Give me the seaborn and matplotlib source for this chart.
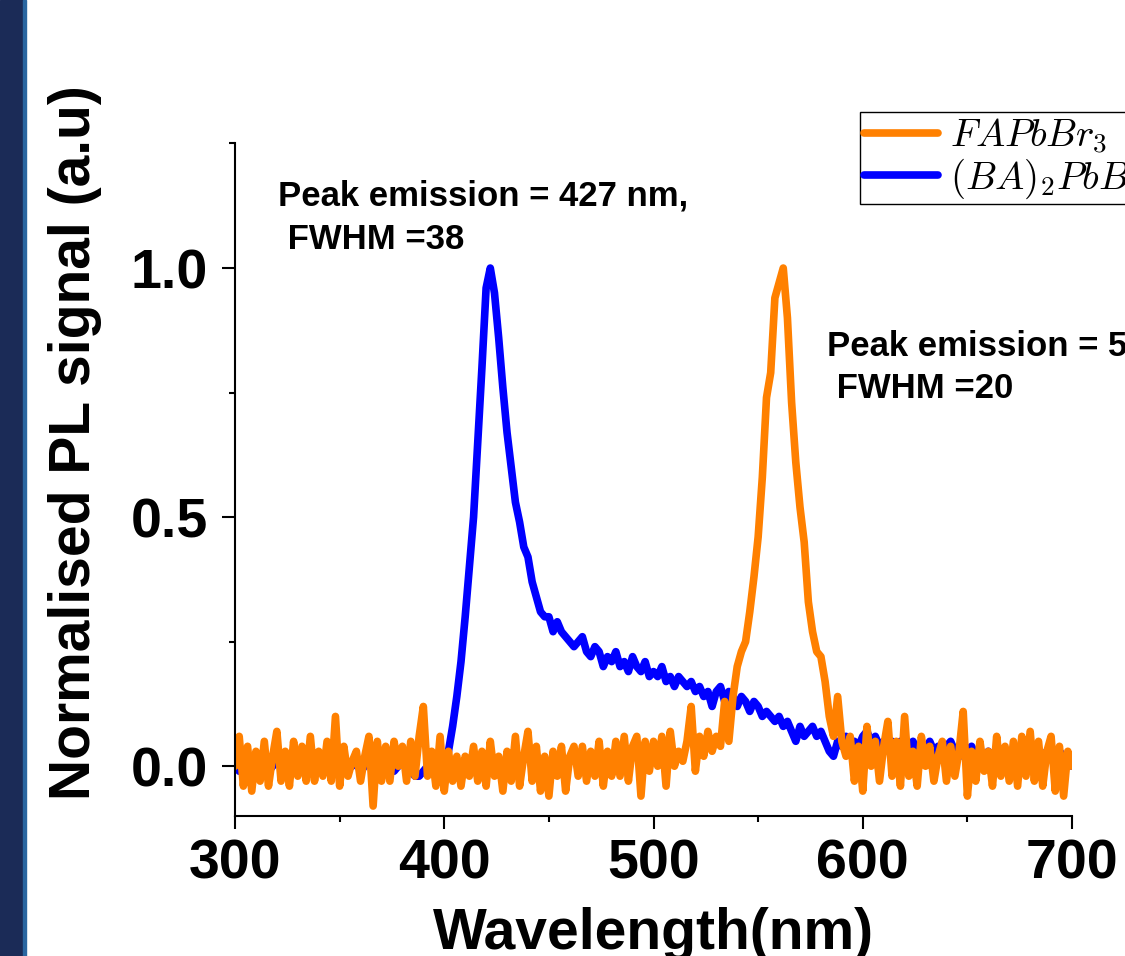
'''PL spectra of FAPbBr3 and (BA)2PbBr4'''
import numpy as np
import pandas as pd
import matplotlib
matplotlib.use('Agg')
import matplotlib.pyplot as plt
from matplotlib.patches import Rectangle
from matplotlib.ticker import MultipleLocator
import seaborn as sns

# wavelength grid (nm), 2 nm step
wavelength = np.arange(300, 702, 2)

# (BA)2PbBr4, values
ba_pbbr4 = [
    0.0, -0.01, 0.01, 0.0, -0.01, 0.01, 0.0, 0.01, -0.01, 0.0,
    0.01, 0.0, -0.01, 0.01, 0.0, 0.0, 0.01, -0.01, 0.0, 0.01,
    0.0, -0.01, 0.0, 0.01, 0.0, 0.01, -0.01, 0.0, 0.0, 0.01,
    -0.01, 0.0, 0.01, 0.0, -0.01, 0.0, 0.01, 0.0, -0.01, 0.0,
    0.01, 0.0, -0.01, -0.02, -0.02, -0.01, 0.0, 0.01, 0.0, 0.0,
    0.01, 0.03, 0.08, 0.14, 0.21, 0.30, 0.40, 0.50, 0.65, 0.80,
    0.96, 1.0, 0.95, 0.86, 0.76, 0.67, 0.60, 0.53, 0.49, 0.44,
    0.42, 0.37, 0.34, 0.31, 0.30, 0.30, 0.27, 0.29, 0.27, 0.26,
    0.25, 0.24, 0.25, 0.26, 0.23, 0.22, 0.24, 0.23, 0.20, 0.22,
    0.21, 0.23, 0.20, 0.21, 0.19, 0.22, 0.20, 0.19, 0.21, 0.18,
    0.19, 0.18, 0.20, 0.17, 0.18, 0.16, 0.18, 0.17, 0.16, 0.17,
    0.15, 0.16, 0.14, 0.15, 0.12, 0.15, 0.16, 0.13, 0.15, 0.14,
    0.12, 0.14, 0.13, 0.11, 0.13, 0.12, 0.10, 0.11, 0.10, 0.09,
    0.10, 0.08, 0.09, 0.07, 0.05, 0.08, 0.06, 0.07, 0.08, 0.06,
    0.07, 0.05, 0.03, 0.02, 0.05, 0.04, 0.06, 0.04, 0.05, 0.04,
    0.06, 0.07, 0.05, 0.06, 0.04, 0.05, 0.04, 0.05, 0.03, 0.05,
    0.04, 0.03, 0.05, 0.03, 0.04, 0.03, 0.05, 0.03, 0.04, 0.02,
    0.04, 0.05, 0.03, 0.04, 0.02, 0.03, 0.04, 0.02, 0.03, 0.02,
    0.03, 0.02, 0.03, 0.01, 0.03, 0.02, 0.03, 0.02, 0.01, 0.03,
    0.02, 0.01, 0.03, 0.02, 0.03, 0.04, 0.02, 0.03, 0.02, 0.02,
    0.0,
]

# FAPbBr3, values
fapbbr3 = [
    0.0, 0.06, -0.04, 0.04, -0.05, 0.03, -0.03, 0.05, -0.04, 0.02,
    0.07, -0.03, 0.03, -0.04, 0.05, -0.02, 0.04, -0.03, 0.06, -0.03,
    0.03, -0.02, 0.05, -0.03, 0.10, -0.04, 0.04, -0.02, 0.01, 0.03,
    -0.03, 0.02, 0.06, -0.08, 0.05, -0.03, 0.04, -0.03, 0.05, 0.0,
    0.04, -0.03, 0.05, -0.02, 0.06, 0.12, -0.02, 0.03, -0.04, 0.06,
    -0.05, 0.03, -0.03, 0.02, -0.04, 0.02, -0.02, 0.04, -0.03, 0.03,
    -0.04, 0.05, -0.02, 0.02, -0.05, 0.03, -0.03, 0.06, -0.04, 0.02,
    0.07, -0.03, 0.04, -0.05, 0.02, -0.06, 0.03, -0.02, 0.04, -0.05,
    0.02, 0.04, -0.02, 0.04, -0.03, 0.03, -0.02, 0.05, -0.04, 0.03,
    -0.02, 0.05, -0.02, 0.06, -0.03, 0.04, 0.06, -0.06, 0.05, -0.01,
    0.05, 0.0, 0.06, -0.04, 0.07, 0.0, 0.03, 0.01, 0.05, 0.12,
    -0.01, 0.06, 0.02, 0.07, 0.03, 0.06, 0.04, 0.13, 0.05, 0.14,
    0.20, 0.23, 0.25, 0.31, 0.38, 0.46, 0.58, 0.74, 0.79, 0.94,
    0.97, 1.0, 0.90, 0.73, 0.61, 0.52, 0.45, 0.33, 0.27, 0.23,
    0.22, 0.17, 0.10, 0.06, 0.14, 0.05, 0.02, 0.06, -0.03, 0.04,
    -0.05, 0.08, 0.0, 0.05, -0.03, 0.04, 0.09, -0.02, 0.05, -0.04,
    0.10, -0.02, 0.03, -0.04, 0.06, 0.0, 0.04, -0.03, 0.02, 0.05,
    -0.03, 0.04, -0.02, 0.03, 0.11, -0.06, 0.03, -0.03, 0.05, -0.01,
    0.03, -0.04, 0.06, -0.02, 0.04, -0.03, 0.05, -0.04, 0.06, -0.02,
    0.07, -0.03, 0.05, -0.04, 0.03, 0.06, -0.05, 0.04, -0.06, 0.03,
    0.0,
]

labels = ['$FAPbBr_3$', '$(BA)_2PbBr_4$']
colors = ['#ff8000', '#0000ff']


def main():
    '''
    main
    '''
    sns.set_style('ticks')
    plt.rcParams['font.family'] = ['Liberation Sans', 'DejaVu Sans']
    plt.rcParams['font.weight'] = 'bold'
    plt.rcParams['mathtext.fontset'] = 'cm'
    for key in ['text.color', 'axes.labelcolor', 'xtick.color',
                'ytick.color', 'axes.edgecolor']:
        plt.rcParams[key] = 'black'

    spectra = pd.DataFrame({'Wavelength': wavelength,
                            'ba': ba_pbbr4, 'fa': fapbbr3})

    fig = plt.figure(figsize=(11.25, 9.56), dpi=100)
    ax = fig.add_axes([0.2089, 0.1464, 0.744, 0.7035])

    # dark strip on the left edge
    fig.patches.append(Rectangle((0, 0), 23 / 1125, 1, transform=fig.transFigure,
                                 color='#1b2b57', zorder=0))
    fig.patches.append(Rectangle((23 / 1125, 0), 3 / 1125, 1,
                                 transform=fig.transFigure,
                                 color='#2a66a0', zorder=0))

    line_kw = dict(lw=5.5, solid_joinstyle='round', solid_capstyle='round')
    sns.lineplot(data=spectra, x='Wavelength', y='ba', color=colors[1],
                 label=labels[1], ax=ax, **line_kw)
    sns.lineplot(data=spectra, x='Wavelength', y='fa', color=colors[0],
                 label=labels[0], ax=ax, **line_kw)

    ax.set_xlim(300, 700)
    ax.set_ylim(-0.1, 1.25)
    ax.xaxis.set_major_locator(MultipleLocator(100))
    ax.xaxis.set_minor_locator(MultipleLocator(50))
    ax.yaxis.set_major_locator(MultipleLocator(0.5))
    ax.yaxis.set_minor_locator(MultipleLocator(0.25))
    ax.tick_params(which='major', length=9.5, width=1.5, labelsize=40)
    ax.tick_params(which='minor', length=4.5, width=1.5)
    ax.tick_params(axis='y', which='major', pad=10)
    ax.tick_params(axis='x', which='major', pad=7)
    for lab in ax.get_xticklabels() + ax.get_yticklabels():
        lab.set_fontweight('bold')
    sns.despine(ax=ax)
    for side in ['left', 'bottom']:
        ax.spines[side].set_linewidth(1.5)
        ax.spines[side].set_color('black')

    ax.set_xlabel('Wavelength(nm)', fontsize=41, fontweight='bold')
    ax.set_ylabel('Normalised PL signal (a.u)', fontsize=41,
                  fontweight='bold')
    ax.xaxis.set_label_coords(0.5, -0.135)
    ax.yaxis.set_label_coords(-0.159, 0.556)

    ax.text(320.5, 1.1265, 'Peak emission = 427 nm,', fontsize=25,
            fontweight='bold')
    ax.text(320.5, 1.038, ' FWHM =38', fontsize=25, fontweight='bold')
    ax.text(583.0, 0.825, 'Peak emission = 560 nm,', fontsize=25,
            fontweight='bold')
    ax.text(583.0, 0.739, ' FWHM =20', fontsize=25, fontweight='bold')

    handles, _ = ax.get_legend_handles_labels()
    ax.legend([handles[1], handles[0]], labels, loc='upper left',
              bbox_to_anchor=(860 / 1125, 1 - 112 / 956),
              bbox_transform=fig.transFigure, borderaxespad=0,
              fontsize=28, handlelength=1.9, handletextpad=0.32,
              borderpad=0.1, labelspacing=0.02, fancybox=False,
              framealpha=1, edgecolor='black')
    ax.get_legend().get_frame().set_linewidth(1.0)

    fig.savefig('out.png', dpi=100)


if __name__ == '__main__':
    main()
